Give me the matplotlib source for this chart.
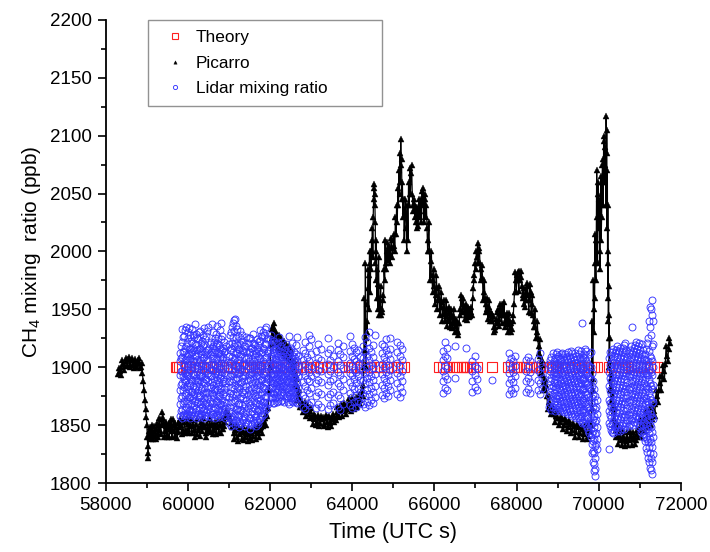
import numpy as np
import matplotlib
matplotlib.use("Agg")
import matplotlib.pyplot as plt
from matplotlib.ticker import MultipleLocator
from matplotlib.lines import Line2D

plt.rcParams['font.family'] = ['Liberation Sans', 'DejaVu Sans']
plt.rcParams['mathtext.default'] = 'regular'

# Picarro in-situ trace (UTC s, ppb)
picarro_t = [
    58300, 58340, 58380, 58420, 58460, 58500, 58540, 58580, 58620, 58660, 58700, 58740, 58780, 58820, 58860,
    58890, 58910, 58930, 58950, 58970, 58985, 59000, 59010, 59020, 59025, 59030, 59040, 59060,
    59080, 59110, 59140, 59170, 59200, 59230, 59260, 59290, 59320, 59350, 59380, 59410, 59440, 59470,
    59500, 59530, 59560, 59590, 59620, 59650, 59680, 59710, 59740, 59770, 59800,
    59830, 59870, 59910, 59950, 59990, 60030, 60070, 60110, 60150, 60190, 60230, 60270, 60310, 60350,
    60390, 60430, 60470, 60510, 60550, 60590, 60630, 60670, 60710, 60750, 60790, 60830, 60870, 60910,
    60950, 60990, 61030,
    61070, 61110, 61150, 61190, 61230, 61270, 61310, 61350, 61390, 61430, 61470, 61510, 61550, 61590,
    61630, 61670, 61710, 61750, 61790, 61830, 61870, 61910, 61950,
    61980, 62000, 62020, 62040, 62060, 62080, 62110, 62140, 62170, 62200, 62230, 62260, 62290, 62320,
    62350, 62380, 62410, 62440, 62470, 62500, 62530, 62560, 62590, 62620, 62650, 62680, 62710, 62740,
    62780, 62820, 62860, 62900, 62940, 62980, 63020, 63060, 63100, 63140, 63180, 63220, 63260, 63300,
    63340, 63380, 63420, 63460, 63500, 63540, 63580, 63620, 63660, 63700, 63740, 63780, 63820, 63860,
    63900, 63940, 63980, 64020, 64060, 64100, 64140, 64180, 64220,
    64250, 64280, 64310, 64330, 64350, 64370, 64390, 64410, 64430, 64450, 64470, 64490, 64510, 64520,
    64535, 64550, 64560, 64575, 64590, 64610, 64630, 64650, 64680, 64700, 64730, 64760, 64790, 64810,
    64840, 64870, 64900, 64930, 64960, 64990, 65020, 65050, 65080, 65110, 65140, 65160, 65180, 65200,
    65220, 65250, 65280, 65310, 65340, 65370, 65400, 65430, 65460, 65490, 65520, 65550, 65580, 65610,
    65640, 65670, 65700, 65730, 65760, 65790, 65820, 65850, 65880, 65910, 65940, 65970, 66000, 66030,
    66060, 66090, 66120, 66150, 66180, 66210, 66240, 66270, 66300, 66330, 66360, 66390, 66420, 66450,
    66480, 66510, 66540, 66570, 66600, 66630, 66660, 66690, 66720, 66750, 66780, 66810, 66840, 66870,
    66900, 66930, 66960, 66990, 67020, 67050, 67080, 67110, 67140, 67170, 67200, 67230, 67260, 67290,
    67320, 67350, 67380, 67410, 67440, 67470, 67500, 67530, 67560, 67590, 67620, 67650, 67680, 67710,
    67740, 67770, 67800, 67830, 67860, 67890, 67920, 67950, 67980, 68010, 68040, 68070, 68100, 68130,
    68160, 68190, 68220, 68250, 68280, 68310, 68340, 68370, 68400, 68430, 68460, 68490, 68520, 68550,
    68580, 68610, 68640, 68670, 68700, 68740, 68780, 68820, 68860, 68900, 68950, 69000, 69050, 69100,
    69150, 69200, 69250, 69300, 69350, 69400, 69450, 69500, 69550, 69600, 69650, 69700, 69750, 69790,
    69820, 69840, 69860, 69880, 69900, 69920, 69940, 69960, 69980, 70000, 70020, 70040, 70060, 70080,
    70100, 70120, 70140, 70160, 70180, 70195, 70210, 70220, 70230, 70240, 70250, 70265, 70280, 70300,
    70320, 70340, 70360, 70380, 70400, 70430, 70460, 70500, 70540, 70580, 70620, 70660, 70700, 70740,
    70780, 70820, 70860, 70900, 70940, 70980, 71020, 71060, 71100, 71140, 71180, 71220, 71260, 71300,
    71340, 71380, 71420, 71460, 71500, 71540, 71580, 71620, 71660, 71700, 71730,
]
picarro_v = [
    1894, 1897, 1900, 1903, 1901, 1905, 1907, 1903, 1906, 1902, 1905, 1903, 1906, 1904, 1900,
    1895, 1888, 1880, 1872, 1864, 1857, 1850, 1840, 1832, 1826, 1822, 1845, 1840,
    1848, 1843, 1838, 1845, 1841, 1847, 1843, 1850, 1846, 1855, 1861, 1852, 1845, 1849,
    1842, 1852, 1847, 1855, 1845, 1850, 1841, 1848, 1839, 1852, 1855,
    1850, 1846, 1853, 1845, 1851, 1843, 1849, 1854, 1846, 1851, 1842, 1848, 1853, 1845,
    1850, 1843, 1852, 1847, 1844, 1851, 1846, 1853, 1848, 1844, 1850, 1855, 1849, 1853,
    1858, 1860, 1856,
    1848, 1843, 1846, 1840, 1847, 1842, 1838, 1845, 1840, 1847, 1842, 1839, 1846, 1841,
    1848, 1843, 1850, 1846, 1852, 1849, 1856, 1860, 1865,
    1880, 1900, 1920, 1933, 1936, 1928, 1931, 1925, 1922, 1926, 1920, 1923, 1918, 1921,
    1915, 1919, 1913, 1916, 1910, 1912, 1906, 1902, 1896, 1890, 1884, 1878, 1873, 1870,
    1866, 1868, 1863, 1865, 1860, 1862, 1857, 1855, 1858, 1853, 1856, 1852, 1855, 1851,
    1856, 1853, 1857, 1852, 1855, 1858, 1856, 1861, 1859, 1864, 1862, 1866, 1863, 1868,
    1866, 1869, 1867, 1870, 1868, 1871, 1869, 1872, 1875,
    1885, 1900, 1915, 1925, 1940, 1955, 1968, 1980, 1990, 2000, 2010, 2020, 2030, 2045,
    2058, 2040, 2025, 2010, 2000, 1985, 1972, 1960, 1952, 1945, 1950, 1958, 1975, 1990,
    2000, 1993, 2005, 1998, 2010, 2003, 2015, 2030, 2040, 2055, 2070, 2085, 2097, 2080,
    2060, 2045, 2035, 2020, 2040, 2060, 2072, 2068, 2050, 2035, 2030, 2025, 2038, 2030,
    2035, 2045, 2052, 2055, 2045, 2030, 2020, 2010, 2000, 1992, 1980, 1975, 1970, 1962,
    1968, 1958, 1960, 1952, 1956, 1946, 1952, 1944, 1950, 1942, 1948, 1940, 1945, 1938,
    1943, 1936, 1932, 1930, 1938, 1950, 1960, 1955, 1948, 1952, 1945, 1950, 1943, 1950,
    1948, 1960, 1975, 1990, 2000, 2007, 2000, 1990, 1985, 1978, 1965, 1960, 1955, 1950,
    1952, 1945, 1948, 1940, 1935, 1932, 1942, 1948, 1942, 1950, 1945, 1955, 1948, 1940,
    1945, 1937, 1942, 1934, 1938, 1933, 1945, 1965, 1975, 1980, 1975, 1983, 1978, 1970,
    1960, 1955, 1965, 1970, 1962, 1958, 1965, 1955, 1945, 1940, 1935, 1930, 1925, 1918,
    1910, 1902, 1893, 1887, 1880, 1875, 1870, 1866, 1863, 1860, 1858, 1856, 1853, 1855,
    1850, 1853, 1848, 1851, 1846, 1849, 1844, 1848, 1843, 1847, 1842, 1846, 1841, 1845,
    1850, 1865, 1890, 1930, 1960, 1990, 2010, 2030, 2050, 2020, 2000, 2040, 2010, 2060,
    2080, 2100, 2060, 2090, 2117, 2105, 2070, 2040, 2000, 1970, 1945, 1925, 1905, 1890,
    1880, 1870, 1862, 1855, 1850, 1846, 1842, 1840, 1837, 1841, 1838, 1836, 1840, 1837,
    1841, 1838, 1840, 1837, 1842, 1845, 1850, 1845, 1855, 1850, 1858, 1852, 1860, 1855,
    1862, 1868, 1875, 1880, 1886, 1892, 1897, 1903, 1910, 1916, 1921,
]

# further Picarro readings at the other edge of the noisy band (UTC s, ppb)
picarro_edge = [
    (58320, 1899), (58360, 1893), (58400, 1906), (58440, 1898), (58480, 1908), (58520, 1901),
    (58560, 1909), (58600, 1900), (58640, 1908), (58680, 1899), (58720, 1907), (58760, 1900),
    (58800, 1908), (58840, 1899), (58875, 1904),
    (59095, 1838), (59125, 1850), (59155, 1842), (59185, 1849), (59215, 1838), (59245, 1852),
    (59275, 1840), (59305, 1856), (59335, 1842), (59365, 1850), (59395, 1856), (59425, 1840),
    (59455, 1853), (59485, 1840), (59515, 1848), (59545, 1840), (59575, 1850), (59605, 1840),
    (59635, 1855), (59665, 1845), (59695, 1852), (59725, 1844), (59755, 1845), (59785, 1848),
    (59850, 1842), (59890, 1855), (59930, 1843), (59970, 1856), (60010, 1847), (60050, 1855),
    (60090, 1843), (60130, 1850), (60170, 1840), (60210, 1855), (60250, 1846), (60290, 1841),
    (60330, 1849), (60370, 1856), (60410, 1848), (60450, 1840), (60490, 1845), (60530, 1855),
    (60570, 1850), (60610, 1842), (60650, 1849), (60690, 1842), (60730, 1854), (60770, 1850),
    (60810, 1843), (60850, 1847), (60890, 1857), (60930, 1862),
    (61050, 1852), (61090, 1849), (61130, 1838), (61170, 1850), (61210, 1836), (61250, 1848),
    (61290, 1844), (61330, 1849), (61370, 1837), (61410, 1843), (61450, 1836), (61490, 1846),
    (61530, 1843), (61570, 1837), (61610, 1846), (61650, 1838), (61690, 1845), (61730, 1840),
    (61770, 1848), (61810, 1843), (61850, 1852), (61890, 1850), (61930, 1858),
    (62050, 1925), (62095, 1938), (62125, 1920), (62155, 1930), (62185, 1917), (62215, 1928),
    (62245, 1915), (62275, 1925), (62305, 1912), (62335, 1923), (62365, 1910), (62395, 1920),
    (62425, 1908), (62455, 1918), (62485, 1905), (62515, 1915), (62545, 1898), (62575, 1905),
    (62605, 1885), (62635, 1893), (62665, 1872), (62695, 1880), (62725, 1866), (62760, 1872),
    (62800, 1861), (62840, 1870), (62880, 1858), (62920, 1867), (62960, 1856), (63000, 1865),
    (63040, 1851), (63080, 1860), (63120, 1850), (63160, 1859), (63200, 1849), (63240, 1858),
    (63280, 1857), (63320, 1849), (63360, 1859), (63400, 1848), (63440, 1858), (63480, 1849),
    (63520, 1860), (63560, 1853), (63600, 1854), (63640, 1866), (63680, 1857), (63720, 1868),
    (63760, 1858), (63800, 1869), (63840, 1860), (63880, 1864), (63920, 1873), (63960, 1862),
    (64000, 1873), (64040, 1864), (64080, 1874), (64120, 1866), (64160, 1876), (64200, 1868),
    (64235, 1880),
    (64265, 1875), (64295, 1960), (64320, 1990), (64340, 1900), (64360, 1930), (64380, 1985),
    (64400, 1950), (64420, 2000), (64440, 1965), (64460, 1985), (64480, 2000), (64500, 1995),
    (64525, 2055), (64545, 2050), (64565, 1990), (64585, 1975), (64600, 1960), (64620, 1950),
    (64640, 1995), (64660, 1945), (64690, 1970), (64715, 1948), (64745, 1962), (64775, 1985),
    (64800, 2010), (64825, 1985), (64855, 2008), (64885, 2000), (64915, 1990), (64945, 2012),
    (64975, 1995), (65005, 2005), (65035, 2000), (65065, 2015), (65095, 2025), (65125, 2040),
    (65150, 2050), (65170, 2060), (65190, 2075), (65210, 2045), (65235, 2030), (65265, 2010),
    (65295, 2045), (65325, 2000), (65355, 2010), (65385, 2040), (65415, 2050), (65445, 2075),
    (65475, 2040), (65505, 2045), (65535, 2040), (65565, 2020), (65595, 2022), (65625, 2045),
    (65655, 2030), (65685, 2025), (65715, 2040), (65745, 2025), (65775, 2050), (65805, 2040),
    (65835, 2000), (65865, 2025), (65895, 1975), (65925, 2000), (65955, 1965), (65985, 1985),
    (66015, 1955), (66045, 1980), (66075, 1950), (66105, 1970), (66135, 1945), (66165, 1965),
    (66195, 1940), (66225, 1958), (66255, 1940), (66285, 1958), (66315, 1936), (66345, 1952),
    (66375, 1935), (66405, 1950), (66435, 1934), (66465, 1950), (66495, 1930), (66525, 1942),
    (66555, 1938), (66585, 1928), (66615, 1945), (66645, 1962), (66675, 1948), (66705, 1960),
    (66735, 1942), (66765, 1955), (66795, 1941), (66825, 1952), (66855, 1944), (66885, 1952),
    (66915, 1945), (66945, 1968), (66975, 1980), (67005, 1985), (67035, 1995), (67065, 1990),
    (67095, 2003), (67125, 1975), (67155, 1988), (67185, 1958), (67215, 1975), (67245, 1948),
    (67275, 1960), (67305, 1942), (67335, 1958), (67365, 1940), (67395, 1946), (67425, 1944),
    (67455, 1930), (67485, 1935), (67515, 1938), (67545, 1950), (67575, 1936), (67605, 1955),
    (67635, 1938), (67665, 1945), (67695, 1956), (67725, 1935), (67755, 1947), (67785, 1930),
    (67815, 1947), (67845, 1940), (67875, 1930), (67905, 1940), (67935, 1955), (67965, 1982),
    (67995, 1965), (68025, 1982), (68055, 1966), (68085, 1975), (68115, 1983), (68145, 1962),
    (68175, 1968), (68205, 1952), (68235, 1958), (68265, 1973), (68295, 1948), (68325, 1972),
    (68355, 1947), (68385, 1962), (68415, 1935), (68445, 1950), (68475, 1925), (68505, 1940),
    (68535, 1912), (68565, 1924), (68595, 1895), (68625, 1906), (68655, 1880), (68685, 1890),
    (68720, 1885), (68760, 1864), (68800, 1875), (68840, 1860), (68880, 1866), (68925, 1853),
    (68975, 1862), (69025, 1850), (69075, 1858), (69125, 1847), (69175, 1856), (69225, 1845),
    (69275, 1854), (69325, 1843), (69375, 1852), (69425, 1840), (69475, 1851), (69525, 1840),
    (69575, 1849), (69625, 1838), (69675, 1850), (69725, 1838), (69770, 1852),
    (69830, 1940), (69850, 1880), (69870, 1975), (69890, 1950), (69910, 2015), (69930, 1975),
    (69950, 2070), (69970, 1990), (69990, 2060), (70010, 2045), (70030, 1985), (70050, 2065),
    (70070, 2030), (70090, 2075), (70110, 2040), (70130, 2095), (70150, 2075), (70170, 2040),
    (70190, 2085), (70205, 2020), (70215, 1990), (70225, 1960), (70235, 1940), (70245, 1925),
    (70255, 1900), (70270, 1880), (70290, 1870),
    (70310, 1895), (70330, 1865), (70350, 1880), (70370, 1850), (70390, 1865), (70415, 1840),
    (70445, 1852), (70480, 1834), (70520, 1846), (70560, 1833), (70600, 1845), (70640, 1832),
    (70680, 1844), (70720, 1833), (70760, 1845), (70800, 1833), (70840, 1844), (70880, 1834),
    (70920, 1846), (70960, 1840), (71000, 1855), (71040, 1840), (71080, 1850), (71120, 1845),
    (71160, 1862), (71200, 1848), (71240, 1865), (71280, 1850), (71320, 1868), (71360, 1858),
    (71400, 1880), (71440, 1870), (71480, 1892), (71520, 1880), (71560, 1902), (71600, 1890),
    (71640, 1918), (71680, 1905), (71715, 1925),
]

# Lidar retrievals: one time per profile column, several values per column
lidar_t = [
    59800, 59850, 59900, 59950, 60000, 60050, 60100, 60150, 60200, 60250, 60300, 60350,
    60400, 60450, 60500, 60550, 60600, 60650, 60700, 60750, 60800, 60850, 60900,
    61000, 61050, 61100, 61150, 61200, 61250, 61300, 61350, 61400, 61450, 61500, 61550,
    61600, 61650, 61700, 61750, 61800, 61850, 61900, 61950,
    62000, 62050, 62100, 62150, 62200, 62250, 62300, 62350, 62400, 62450, 62500, 62550,
    62600, 62650,
    62800, 62850, 62900, 62950, 63000, 63120, 63170, 63230, 63400, 63460, 63520,
    63650, 63710, 63770, 63950, 64000, 64050, 64100, 64150, 64200,
    64250, 64300, 64350, 64400, 64450, 64500, 64550,
    64720, 64770, 64820, 64870, 64920, 65100, 65150, 65200,
    66200, 66250, 66300, 66500, 66780, 66920, 66980, 67030, 67390,
    67820, 67870, 67920, 67970, 68230, 68280, 68330, 68520, 68570, 68620,
    68800, 68850, 68900, 68950, 69000, 69050, 69100, 69150, 69200, 69250, 69300, 69350,
    69400, 69450, 69500, 69550, 69600, 69650, 69700, 69750, 69800, 69850, 69900, 69950,
    70250, 70300, 70350, 70400, 70450, 70500, 70550, 70600, 70650, 70700, 70750, 70800,
    70850, 70900, 70950, 71000, 71050, 71100, 71150, 71200, 71250, 71300, 71330,
    # profiles in between, dense blocks
    59825, 59875, 59925, 59975, 60025, 60075, 60125, 60175, 60225, 60275, 60325, 60375,
    60425, 60475, 60525, 60575, 60625, 60675, 60725, 60775, 60825, 60875, 60925,
    61025, 61075, 61125, 61175, 61225, 61275, 61325, 61375, 61425, 61475, 61525, 61575,
    61625, 61675, 61725, 61775, 61825, 61875, 61925,
    62025, 62075, 62125, 62175, 62225, 62275, 62325, 62375, 62425, 62475, 62525, 62575,
    62625, 62675,
    68825, 68875, 68925, 68975, 69025, 69075, 69125, 69175, 69225, 69275, 69325, 69375,
    69425, 69475, 69525, 69575, 69625, 69675, 69725, 69775, 69825, 69875, 69925,
    70275, 70325, 70375, 70425, 70475, 70525, 70575, 70625, 70675, 70725, 70775, 70825,
    70875, 70925, 70975, 71025, 71075, 71125, 71175, 71225, 71275,
]
lidar_v = [
    [1858, 1868, 1880, 1893, 1905, 1912],
    [1856, 1864, 1875, 1886, 1897, 1909, 1922, 1933],
    [1860, 1871, 1883, 1890, 1901, 1914, 1927],
    [1857, 1866, 1878, 1889, 1896, 1907, 1918, 1935],
    [1859, 1869, 1881, 1892, 1903, 1911, 1925, 1930],
    [1856, 1863, 1874, 1885, 1898, 1908, 1916, 1928],
    [1861, 1872, 1879, 1888, 1900, 1913, 1921, 1933],
    [1858, 1867, 1877, 1894, 1905, 1915, 1926],
    [1856, 1865, 1884, 1891, 1902, 1910, 1919, 1929],
    [1860, 1870, 1880, 1887, 1899, 1912, 1924],
    [1857, 1868, 1876, 1889, 1896, 1906, 1917, 1931],
    [1859, 1866, 1882, 1893, 1904, 1914, 1923],
    [1856, 1864, 1873, 1886, 1897, 1909, 1920, 1934],
    [1861, 1870, 1879, 1890, 1901, 1911, 1927],
    [1858, 1867, 1878, 1888, 1895, 1907, 1916, 1935],
    [1857, 1865, 1883, 1892, 1903, 1913, 1922],
    [1860, 1869, 1876, 1885, 1898, 1910, 1918, 1930],
    [1856, 1866, 1881, 1894, 1902, 1915, 1925],
    [1859, 1871, 1880, 1889, 1900, 1908, 1921, 1936],
    [1857, 1864, 1875, 1887, 1896, 1912, 1919],
    [1861, 1868, 1882, 1893, 1904, 1911, 1924, 1938],
    [1858, 1867, 1877, 1890, 1899, 1909, 1917],
    [1856, 1865, 1879, 1886, 1902, 1914],
    [1852, 1862, 1874, 1888, 1899, 1910, 1920],
    [1849, 1858, 1870, 1883, 1894, 1905, 1917, 1930],
    [1855, 1866, 1877, 1890, 1902, 1913, 1926, 1938],
    [1850, 1860, 1872, 1885, 1897, 1908, 1921, 1942],
    [1853, 1864, 1879, 1891, 1900, 1912, 1919, 1933],
    [1848, 1859, 1869, 1882, 1895, 1906, 1916],
    [1851, 1863, 1875, 1887, 1898, 1911, 1924],
    [1854, 1861, 1873, 1884, 1893, 1904, 1914, 1922],
    [1849, 1857, 1868, 1880, 1892, 1903, 1918],
    [1852, 1865, 1876, 1889, 1901, 1909, 1921],
    [1847, 1856, 1867, 1878, 1890, 1899, 1913, 1925],
    [1850, 1862, 1874, 1886, 1896, 1907, 1917],
    [1853, 1860, 1871, 1883, 1894, 1905, 1915, 1920],
    [1849, 1858, 1869, 1881, 1892, 1902, 1912],
    [1851, 1864, 1877, 1888, 1899, 1910, 1919],
    [1855, 1863, 1872, 1885, 1897, 1908, 1923, 1932],
    [1858, 1866, 1879, 1890, 1901, 1913, 1926],
    [1860, 1870, 1882, 1893, 1904, 1916, 1928],
    [1864, 1875, 1887, 1896, 1909, 1920, 1935],
    [1868, 1880, 1891, 1902, 1914, 1925],
    [1870, 1879, 1888, 1897, 1906, 1915, 1924],
    [1873, 1882, 1890, 1899, 1908, 1918],
    [1869, 1877, 1886, 1894, 1903, 1912, 1921],
    [1874, 1884, 1891, 1898, 1907, 1916],
    [1871, 1880, 1887, 1895, 1902, 1910, 1922],
    [1876, 1883, 1889, 1896, 1905, 1914],
    [1872, 1881, 1888, 1893, 1900, 1909, 1922],
    [1870, 1878, 1885, 1892, 1899, 1906, 1915],
    [1875, 1882, 1890, 1897, 1904, 1913],
    [1868, 1877, 1886, 1894, 1901, 1911, 1927],
    [1873, 1880, 1888, 1895, 1903, 1917],
    [1870, 1879, 1887, 1893, 1902, 1910],
    [1872, 1884, 1891, 1899, 1908],
    [1869, 1878, 1886, 1896, 1905, 1926],
    [1866, 1876, 1887, 1897, 1906, 1915],
    [1864, 1873, 1884, 1893, 1903, 1912, 1922],
    [1869, 1880, 1890, 1899, 1909],
    [1867, 1878, 1888, 1896, 1905, 1918, 1928],
    [1870, 1882, 1892, 1901, 1911, 1924],
    [1865, 1875, 1886, 1895, 1904, 1914],
    [1868, 1879, 1889, 1898, 1908, 1920],
    [1866, 1877, 1887, 1897, 1906, 1916],
    [1864, 1874, 1885, 1894, 1903, 1912, 1925],
    [1867, 1877, 1888, 1897, 1906, 1916],
    [1869, 1879, 1890, 1900, 1910],
    [1866, 1876, 1886, 1896, 1905, 1915, 1921],
    [1863, 1873, 1884, 1893, 1902, 1911],
    [1868, 1880, 1890, 1899, 1909, 1918],
    [1867, 1878, 1887, 1895, 1904, 1914, 1927],
    [1865, 1874, 1884, 1893, 1901, 1910, 1920],
    [1870, 1881, 1890, 1898, 1907, 1917],
    [1866, 1876, 1886, 1896, 1905, 1913],
    [1871, 1882, 1892, 1903, 1915],
    [1869, 1879, 1889, 1899, 1909],
    [1868, 1878, 1889, 1898, 1908, 1918],
    [1866, 1875, 1886, 1895, 1905, 1914, 1926],
    [1870, 1880, 1891, 1900, 1910, 1922],
    [1867, 1877, 1887, 1896, 1906, 1917, 1930],
    [1872, 1882, 1892, 1902, 1913],
    [1869, 1879, 1889, 1899, 1909, 1919],
    [1874, 1884, 1894, 1904, 1928],
    [1876, 1885, 1894, 1903, 1912, 1920],
    [1873, 1882, 1891, 1900, 1909, 1918],
    [1878, 1887, 1896, 1905, 1915, 1924],
    [1875, 1884, 1893, 1902, 1911],
    [1880, 1889, 1898, 1907, 1916, 1925],
    [1877, 1886, 1895, 1904, 1913, 1922],
    [1874, 1883, 1892, 1901, 1910, 1919],
    [1879, 1888, 1897, 1906, 1916],
    [1878, 1888, 1897, 1906, 1914],
    [1882, 1892, 1901, 1910, 1922],
    [1880, 1890, 1899, 1908, 1917],
    [1891, 1918],
    [1917],
    [1879, 1888, 1897, 1905],
    [1883, 1893, 1901, 1910],
    [1880, 1890, 1899],
    [1889],
    [1877, 1886, 1895, 1904, 1912],
    [1880, 1890, 1899, 1908],
    [1878, 1887, 1896, 1905],
    [1882, 1892, 1901, 1910],
    [1879, 1888, 1897, 1906],
    [1881, 1891, 1900, 1909],
    [1878, 1887, 1896, 1905],
    [1880, 1889, 1898, 1907],
    [1877, 1886, 1895, 1904, 1912],
    [1882, 1891, 1900],
    [1866, 1876, 1885, 1894, 1903],
    [1863, 1872, 1882, 1891, 1900, 1909],
    [1868, 1878, 1887, 1896, 1905],
    [1864, 1873, 1883, 1892, 1901, 1911],
    [1866, 1875, 1885, 1894, 1903, 1910],
    [1862, 1871, 1880, 1889, 1898, 1907],
    [1865, 1874, 1884, 1893, 1902, 1912],
    [1861, 1870, 1879, 1888, 1897, 1906],
    [1863, 1872, 1882, 1891, 1900, 1909],
    [1860, 1869, 1878, 1887, 1896, 1905, 1913],
    [1862, 1871, 1881, 1890, 1899, 1908],
    [1858, 1867, 1876, 1885, 1894, 1903, 1912],
    [1860, 1870, 1879, 1888, 1897, 1906],
    [1856, 1865, 1874, 1883, 1892, 1901, 1910],
    [1858, 1868, 1877, 1886, 1895, 1904, 1915],
    [1854, 1863, 1872, 1881, 1890, 1899, 1908],
    [1852, 1861, 1870, 1880, 1889, 1898, 1907, 1938],
    [1855, 1864, 1873, 1882, 1891, 1900, 1911],
    [1850, 1859, 1868, 1877, 1886, 1895, 1905, 1914],
    [1846, 1856, 1865, 1874, 1883, 1892, 1902],
    [1840, 1850, 1860, 1870, 1880, 1890, 1900, 1913],
    [1818, 1828, 1836, 1845, 1855, 1866, 1877, 1888],
    [1806, 1812, 1822, 1832, 1842, 1853, 1864, 1875],
    [1829, 1838, 1848, 1860, 1872],
    [1829, 1852, 1862, 1872, 1884, 1896, 1908],
    [1846, 1856, 1866, 1877, 1888, 1899, 1910],
    [1843, 1853, 1864, 1875, 1886, 1897, 1906, 1916],
    [1848, 1858, 1869, 1880, 1891, 1902, 1912],
    [1845, 1855, 1866, 1877, 1888, 1899, 1909, 1918],
    [1850, 1861, 1872, 1883, 1894, 1905, 1914],
    [1847, 1857, 1868, 1879, 1890, 1901, 1910],
    [1852, 1863, 1874, 1885, 1896, 1907, 1917],
    [1849, 1859, 1870, 1881, 1892, 1903, 1913, 1921],
    [1854, 1865, 1876, 1887, 1898, 1909],
    [1851, 1861, 1872, 1883, 1894, 1905, 1915],
    [1856, 1867, 1878, 1889, 1900, 1911, 1935],
    [1853, 1863, 1874, 1885, 1896, 1907, 1917],
    [1858, 1869, 1880, 1891, 1902, 1913, 1922],
    [1855, 1865, 1876, 1887, 1898, 1909, 1918],
    [1850, 1861, 1872, 1883, 1894, 1905, 1915],
    [1846, 1857, 1868, 1879, 1890, 1901, 1911, 1920],
    [1842, 1853, 1864, 1875, 1886, 1897, 1907],
    [1830, 1840, 1851, 1862, 1873, 1884, 1895, 1906, 1916],
    [1822, 1835, 1847, 1859, 1870, 1881, 1893, 1905, 1925],
    [1813, 1826, 1838, 1850, 1862, 1874, 1886, 1898, 1910, 1935, 1952],
    [1808, 1818, 1831, 1844, 1857, 1869, 1881, 1893, 1905, 1918, 1945, 1958],
    [1825, 1840, 1855, 1870, 1885, 1900, 1920, 1940],
    # profiles in between
    [1862, 1873, 1885, 1897, 1908, 1918],
    [1859, 1869, 1880, 1892, 1903, 1913, 1926],
    [1863, 1876, 1887, 1895, 1906, 1917, 1932],
    [1860, 1871, 1884, 1893, 1900, 1910, 1921],
    [1862, 1874, 1886, 1896, 1906, 1916, 1934],
    [1859, 1868, 1879, 1890, 1903, 1912, 1923],
    [1864, 1875, 1884, 1893, 1905, 1917, 1928],
    [1861, 1871, 1881, 1889, 1899, 1910, 1920, 1937],
    [1859, 1869, 1878, 1888, 1896, 1906, 1915, 1925],
    [1863, 1874, 1884, 1893, 1904, 1916, 1930],
    [1860, 1871, 1880, 1892, 1901, 1911, 1921],
    [1862, 1870, 1878, 1887, 1898, 1908, 1918, 1928],
    [1859, 1868, 1877, 1890, 1901, 1913, 1924],
    [1864, 1874, 1884, 1894, 1905, 1915, 1931],
    [1861, 1871, 1882, 1892, 1899, 1911, 1920],
    [1860, 1869, 1878, 1887, 1898, 1908, 1917, 1937],
    [1863, 1873, 1880, 1890, 1902, 1913, 1922],
    [1859, 1870, 1877, 1886, 1897, 1906, 1918, 1929],
    [1862, 1875, 1884, 1893, 1904, 1912, 1925],
    [1860, 1868, 1879, 1891, 1900, 1909, 1916, 1932],
    [1864, 1872, 1886, 1896, 1907, 1915, 1927],
    [1861, 1870, 1881, 1888, 1895, 1904, 1913, 1922],
    [1859, 1869, 1875, 1883, 1893, 1906, 1918],
    [1856, 1866, 1878, 1892, 1904, 1915, 1928],
    [1853, 1862, 1874, 1887, 1898, 1909, 1921, 1935],
    [1858, 1870, 1881, 1894, 1906, 1918, 1931, 1941],
    [1854, 1864, 1876, 1889, 1901, 1912, 1925, 1936],
    [1857, 1868, 1883, 1895, 1904, 1916, 1927],
    [1852, 1863, 1873, 1886, 1899, 1910, 1920, 1931],
    [1855, 1867, 1879, 1891, 1902, 1915, 1928],
    [1858, 1865, 1877, 1888, 1897, 1908, 1918],
    [1853, 1861, 1872, 1884, 1896, 1907, 1914, 1926],
    [1856, 1869, 1880, 1893, 1905, 1913, 1925],
    [1851, 1860, 1871, 1882, 1894, 1903, 1917],
    [1854, 1866, 1878, 1890, 1900, 1911, 1921, 1929],
    [1857, 1864, 1875, 1887, 1898, 1909, 1919],
    [1853, 1862, 1873, 1885, 1896, 1906, 1916, 1924],
    [1855, 1868, 1881, 1892, 1903, 1914, 1923],
    [1859, 1867, 1876, 1889, 1901, 1912, 1927],
    [1862, 1870, 1883, 1894, 1905, 1917, 1930],
    [1866, 1874, 1886, 1897, 1908, 1920, 1933],
    [1870, 1879, 1890, 1900, 1912, 1924],
    [1874, 1883, 1892, 1901, 1910, 1919, 1928],
    [1869, 1878, 1886, 1894, 1904, 1913, 1923],
    [1873, 1881, 1890, 1898, 1907, 1916],
    [1870, 1879, 1887, 1894, 1902, 1911, 1920],
    [1874, 1884, 1891, 1899, 1906, 1914, 1926],
    [1871, 1879, 1886, 1892, 1900, 1909, 1918],
    [1876, 1884, 1890, 1897, 1904, 1912],
    [1873, 1881, 1888, 1895, 1902, 1910, 1920],
    [1870, 1879, 1887, 1893, 1900, 1908, 1916],
    [1875, 1883, 1891, 1898, 1906, 1914],
    [1871, 1878, 1885, 1892, 1899, 1908, 1921],
    [1874, 1882, 1890, 1897, 1905, 1913],
    [1870, 1880, 1888, 1895, 1903, 1911, 1919],
    [1873, 1882, 1892, 1901, 1910],
    [1869, 1879, 1888, 1897, 1906],
    [1866, 1875, 1884, 1894, 1903, 1912],
    [1862, 1871, 1881, 1890, 1899, 1908],
    [1867, 1876, 1886, 1895, 1904, 1913],
    [1864, 1873, 1882, 1891, 1900, 1908],
    [1867, 1877, 1886, 1895, 1905, 1911],
    [1863, 1872, 1881, 1890, 1899, 1909],
    [1866, 1875, 1884, 1893, 1902, 1911],
    [1861, 1870, 1880, 1889, 1898, 1907],
    [1864, 1873, 1883, 1892, 1901, 1910],
    [1860, 1869, 1878, 1887, 1896, 1905, 1914],
    [1863, 1872, 1881, 1890, 1899, 1909],
    [1858, 1867, 1877, 1886, 1895, 1904, 1912],
    [1861, 1870, 1879, 1888, 1897, 1907],
    [1856, 1866, 1875, 1884, 1893, 1902, 1911],
    [1858, 1868, 1877, 1886, 1896, 1905, 1914],
    [1853, 1863, 1872, 1881, 1890, 1899, 1909],
    [1852, 1861, 1870, 1879, 1888, 1897, 1908, 1916],
    [1848, 1857, 1866, 1876, 1885, 1894, 1904],
    [1843, 1853, 1863, 1872, 1882, 1891, 1901, 1911],
    [1826, 1834, 1842, 1852, 1862, 1873, 1884, 1895],
    [1810, 1816, 1826, 1838, 1848, 1858, 1870, 1881],
    [1834, 1843, 1854, 1866],
    [1849, 1859, 1869, 1880, 1891, 1902, 1913],
    [1844, 1851, 1861, 1871, 1882, 1893, 1904, 1913],
    [1846, 1856, 1867, 1878, 1889, 1900, 1910],
    [1850, 1861, 1872, 1883, 1894, 1904, 1915],
    [1848, 1858, 1869, 1880, 1891, 1902, 1912],
    [1845, 1855, 1866, 1877, 1888, 1898, 1908, 1917],
    [1850, 1860, 1871, 1882, 1893, 1904, 1913],
    [1847, 1857, 1868, 1879, 1890, 1900, 1910, 1919],
    [1852, 1862, 1873, 1884, 1895, 1906, 1915],
    [1849, 1859, 1870, 1881, 1892, 1903, 1912],
    [1854, 1864, 1875, 1886, 1897, 1908, 1918],
    [1850, 1860, 1871, 1882, 1893, 1904, 1914],
    [1856, 1866, 1877, 1888, 1899, 1910, 1919],
    [1852, 1862, 1873, 1884, 1895, 1906, 1916],
    [1848, 1858, 1869, 1880, 1891, 1902, 1912, 1921],
    [1844, 1854, 1865, 1876, 1887, 1898, 1908],
    [1840, 1850, 1861, 1872, 1883, 1894, 1904, 1915],
    [1836, 1846, 1857, 1868, 1879, 1890, 1900, 1911],
    [1827, 1838, 1849, 1860, 1871, 1882, 1893, 1903, 1921],
    [1818, 1831, 1843, 1855, 1866, 1878, 1890, 1901, 1914, 1940],
    [1811, 1822, 1835, 1848, 1860, 1872, 1884, 1896, 1908, 1928, 1950],
]

# Theory value used at the lidar times
theory_ppb = 1900
theory_t = [
    59700, 59740, 59780, 59860, 59960, 60060, 60160, 60260, 60360, 60460, 60560, 60660,
    60760, 60860, 60960, 61060, 61160, 61260, 61360, 61460, 61560, 61660, 61760, 61860,
    61960, 62060, 62160, 62260, 62360, 62460, 62560, 62660,
    62760, 62800, 62880, 62960, 63040, 63150, 63230, 63420, 63500, 63680, 63760,
    63960, 64040, 64120, 64200, 64280, 64360, 64440, 64520, 64600,
    64700, 64780, 64860, 64940, 65100, 65180, 65260,
    66120, 66200, 66280, 66360, 66470, 66560, 66680, 66720, 66760, 66800, 66870,
    66950, 67040, 67395, 67800, 67860, 67930, 68000, 68070,
    68170, 68240, 68300, 68360, 68430, 68490, 68550, 68620,
    68820, 68880, 68950, 69020, 69100, 69180, 69260, 69350, 69430, 69520,
    69650, 69730, 69800, 69880, 69960,
    70240, 70320, 70400, 70480, 70560, 70640, 70720,
    70780, 70860, 70940, 71020, 71100, 71180, 71260, 71340, 71410,
]

# merge both Picarro readings into one time-ordered trace
pic_t = np.concatenate([picarro_t, [p[0] for p in picarro_edge]])
pic_v = np.concatenate([picarro_v, [p[1] for p in picarro_edge]])
order = np.argsort(pic_t, kind='stable')
pic_t, pic_v = pic_t[order], pic_v[order]

lid_x = np.repeat(lidar_t, [len(v) for v in lidar_v])
lid_y = np.concatenate([np.array(v, dtype=float) for v in lidar_v])

fig = plt.figure(figsize=(7.1, 5.52), dpi=100)
ax = fig.add_axes([0.149, 0.125, 0.81, 0.839])

ax.plot(theory_t, np.full(len(theory_t), theory_ppb), ls='none', marker='s', ms=6.5,
        mfc='none', mec='#ff2020', mew=0.8, label='Theory')
ax.plot(pic_t, pic_v, ls='-', lw=0.9, marker='^', ms=4, color='black',
        mec='black', mew=0.3, label='Picarro')
ax.plot(lid_x, lid_y, ls='none', marker='o', ms=5, mfc='none', mec='#3535ff',
        mew=0.65, label='Lidar mixing ratio')

ax.set_xlim(58000, 72000)
ax.set_ylim(1800, 2200)
ax.xaxis.set_major_locator(MultipleLocator(2000))
ax.xaxis.set_minor_locator(MultipleLocator(1000))
ax.yaxis.set_major_locator(MultipleLocator(50))
ax.yaxis.set_minor_locator(MultipleLocator(25))
ax.tick_params(which='major', direction='out', length=6, width=1.2, labelsize=13.5, pad=4)
ax.tick_params(which='minor', direction='out', length=3.5, width=1.2)
for s in ['top', 'right']:
    ax.spines[s].set_visible(False)
for s in ['left', 'bottom']:
    ax.spines[s].set_linewidth(1.3)

ax.set_xlabel('Time (UTC s)', fontsize=15.5, labelpad=6)
ax.set_ylabel('CH$_4$ mixing  ratio (ppb)', fontsize=15, labelpad=5)

# legend entries show markers only
h, l = ax.get_legend_handles_labels()
hh = [Line2D([], [], ls='none', marker=x.get_marker(), ms=x.get_markersize(),
             mfc=x.get_markerfacecolor(), mec=x.get_markeredgecolor(),
             mew=x.get_markeredgewidth()) for x in h]
leg = ax.legend(hh, l, loc='upper left', bbox_to_anchor=(0.073, 0.0, 0.407, 1.0),
                mode='expand', borderaxespad=0, fontsize=12.4, frameon=True,
                fancybox=False, edgecolor='#777777', markerscale=0.6,
                handlelength=2.0, handletextpad=0.2, borderpad=0.6, labelspacing=0.6)
leg.get_frame().set_linewidth(1.0)

fig.savefig('out.png', dpi=100)
